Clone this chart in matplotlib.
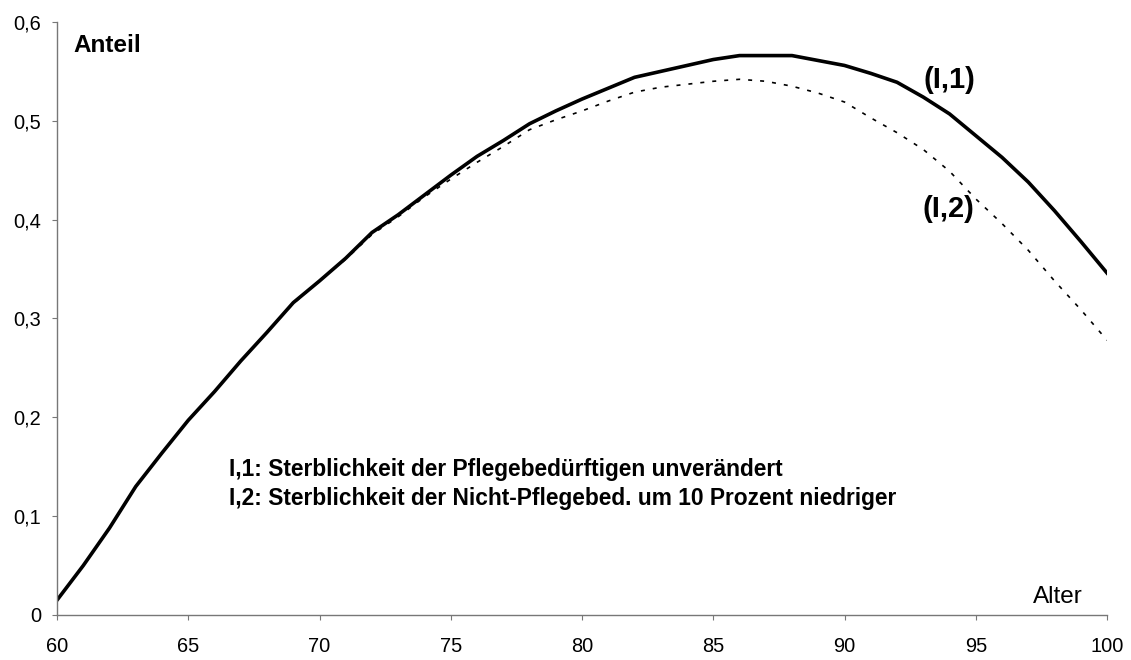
import matplotlib.pyplot as plt
from matplotlib.ticker import FuncFormatter

plt.rcParams['font.family'] = ['Liberation Sans', 'DejaVu Sans']

# Alter
ages = list(range(60, 101))

# (I,1) Sterblichkeit der Pflegebeduerftigen unveraendert
share_i1 = [0.015, 0.050, 0.088, 0.130, 0.164, 0.197, 0.226, 0.257, 0.286, 0.316,
            0.338, 0.361, 0.387, 0.405, 0.425, 0.445, 0.464, 0.480, 0.497, 0.510,
            0.522, 0.533, 0.544, 0.550, 0.556, 0.562, 0.566, 0.566, 0.566, 0.561,
            0.556, 0.548, 0.539, 0.524, 0.507, 0.485, 0.463, 0.438, 0.409, 0.378,
            0.346]

# (I,2) Sterblichkeit der Nicht-Pflegebed. um 10 Prozent niedriger
share_i2 = [0.015, 0.050, 0.088, 0.130, 0.164, 0.197, 0.226, 0.257, 0.286, 0.315,
            0.338, 0.360, 0.385, 0.403, 0.423, 0.441, 0.458, 0.474, 0.491, 0.501,
            0.510, 0.520, 0.529, 0.534, 0.537, 0.540, 0.542, 0.540, 0.535, 0.528,
            0.519, 0.503, 0.488, 0.471, 0.449, 0.421, 0.396, 0.369, 0.338, 0.309,
            0.278]

fig = plt.figure(figsize=(11.31, 6.6), dpi=100)
ax = fig.add_axes([0.0504, 0.0682, 0.9284, 0.8985])

ax.plot(ages, share_i1, color='black', lw=2.6, solid_joinstyle='round')
ax.plot(ages, share_i2, color='black', lw=1.2, linestyle=(0, (2.4, 4.8)))

ax.set_xlim(60, 100)
ax.set_ylim(0, 0.6)
ax.set_xticks(range(60, 101, 5))
ax.set_yticks([0, 0.1, 0.2, 0.3, 0.4, 0.5, 0.6])
ax.yaxis.set_major_formatter(FuncFormatter(lambda v, p: '0' if v == 0 else f'{v:.1f}'.replace('.', ',')))
ax.tick_params(labelsize=14.4, length=3.6, width=0.8, direction='out',
               color='#777777', labelcolor='black')
ax.tick_params(axis='x', pad=12.5)
ax.tick_params(axis='y', pad=7.8)
ax.spines['top'].set_visible(False)
ax.spines['right'].set_visible(False)
for s in ('left', 'bottom'):
    ax.spines[s].set_linewidth(1.0)
    ax.spines[s].set_color('#777777')

ax.text(60.62, 0.5757, 'Anteil', fontsize=17.5, fontweight='bold', va='center')
ax.text(98.11, 0.0185, 'Alter', fontsize=17.5, ha='center', va='center')
ax.text(93.98, 0.541, '(I,1)', fontsize=21, fontweight='bold', ha='center', va='center')
ax.text(93.95, 0.4105, '(I,2)', fontsize=21, fontweight='bold', ha='center', va='center')
ax.text(66.55, 0.147, 'I,1: Sterblichkeit der Pflegebedürftigen unverändert',
        fontsize=16.4, fontweight='bold', va='center')
ax.text(66.55, 0.118, 'I,2: Sterblichkeit der Nicht-Pflegebed. um 10 Prozent niedriger',
        fontsize=16.4, fontweight='bold', va='center')

fig.savefig('out.png', dpi=100)
